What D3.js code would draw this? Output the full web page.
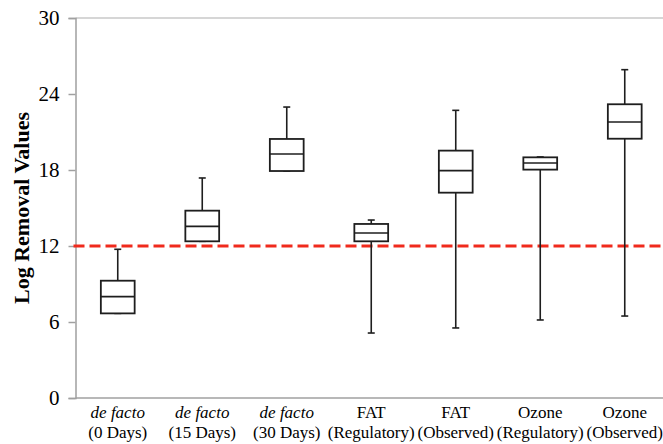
<!DOCTYPE html>
<html>
<head>
<meta charset="utf-8">
<script src="https://cdn.jsdelivr.net/npm/d3@7"></script>
<style>
  body { margin: 0; background: #fff; }
  svg { display: block; }
  text { font-family: "Liberation Serif", "Times New Roman", serif; fill: #000; }
</style>
</head>
<body>
<div class="container"></div>
<script>
const categories = ["de facto|(0 Days)", "de facto|(15 Days)", "de facto|(30 Days)",
  "FAT|(Regulatory)", "FAT|(Observed)", "Ozone|(Regulatory)", "Ozone|(Observed)"];
const mins = [6.68, 12.37, 17.92, 5.13, 5.53, 6.16, 6.47];
const q1s = [6.68, 12.37, 17.92, 12.37, 16.21, 18.03, 20.47];
const medians = [8.0, 13.55, 19.26, 13.03, 17.95, 18.55, 21.79];
const q3s = [9.26, 14.79, 20.45, 13.74, 19.53, 19.0, 23.19];
const maxs = [11.74, 17.37, 22.97, 14.05, 22.71, 19.03, 25.92];
const yTicks = [0, 6, 12, 18, 24, 30];
const threshold = 12;

const width = 663;
const height = 444;
const plotLeft = 75.5;
const plotTop = 18;
const plotBottom = 398;
const step = 84.5;

const svg = d3.select(".container").append("svg")
  .attr("width", width)
  .attr("height", height);

const x = d3.scaleBand()
  .domain(categories)
  .range([plotLeft, plotLeft + step * categories.length])
  .paddingInner(0.6)
  .paddingOuter(0.3);

const y = d3.scaleLinear().domain([0, 30]).range([plotBottom, plotTop]);

// frame lines
const axisColor = "#a0a0a0";
svg.append("line")
  .attr("x1", plotLeft).attr("x2", width)
  .attr("y1", y(30)).attr("y2", y(30))
  .attr("stroke", "#c8c8c8").attr("stroke-width", 1.5);
svg.append("line")
  .attr("x1", plotLeft).attr("x2", width)
  .attr("y1", y(0)).attr("y2", y(0))
  .attr("stroke", axisColor).attr("stroke-width", 1.5);

const yAxis = svg.append("g")
  .attr("transform", `translate(${plotLeft},0)`)
  .call(d3.axisLeft(y).tickValues(yTicks).tickSize(7).tickPadding(9));
yAxis.select(".domain").attr("stroke", axisColor).attr("stroke-width", 1.5);
yAxis.selectAll(".tick line").attr("stroke", axisColor).attr("stroke-width", 1.5);
yAxis.selectAll(".tick text")
  .style("font-family", "'Liberation Serif', 'Times New Roman', serif")
  .style("font-size", "21px")
  .attr("fill", "#000");

svg.append("text")
  .attr("transform", `translate(29,${(plotTop + plotBottom) / 2}) rotate(-90)`)
  .attr("text-anchor", "middle")
  .style("font-size", "22px")
  .style("font-weight", "bold")
  .text("Log Removal Values");

// threshold line
svg.append("line")
  .attr("x1", plotLeft - 2).attr("x2", width)
  .attr("y1", y(threshold)).attr("y2", y(threshold))
  .attr("stroke", "#f02a1c")
  .attr("stroke-width", 3)
  .attr("stroke-dasharray", "11,5");

// boxes
const boxColor = "#1e1e1e";
const capHalf = 3.5;
categories.forEach((c, i) => {
  const cx = x(c) + x.bandwidth() / 2;
  const g = svg.append("g");

  g.append("line")
    .attr("x1", cx).attr("x2", cx)
    .attr("y1", y(maxs[i])).attr("y2", y(q3s[i]))
    .attr("stroke", boxColor).attr("stroke-width", 1.6);
  g.append("line")
    .attr("x1", cx).attr("x2", cx)
    .attr("y1", y(q1s[i])).attr("y2", y(mins[i]))
    .attr("stroke", boxColor).attr("stroke-width", 1.6);

  [maxs[i], mins[i]].forEach((v) => {
    g.append("line")
      .attr("x1", cx - capHalf).attr("x2", cx + capHalf)
      .attr("y1", y(v)).attr("y2", y(v))
      .attr("stroke", boxColor).attr("stroke-width", 1.6);
  });

  g.append("rect")
    .attr("x", x(c))
    .attr("y", y(q3s[i]))
    .attr("width", x.bandwidth())
    .attr("height", y(q1s[i]) - y(q3s[i]))
    .attr("fill", "#fff")
    .attr("stroke", boxColor)
    .attr("stroke-width", 1.8);

  g.append("line")
    .attr("x1", x(c)).attr("x2", x(c) + x.bandwidth())
    .attr("y1", y(medians[i])).attr("y2", y(medians[i]))
    .attr("stroke", boxColor).attr("stroke-width", 1.6);

  const [line1, line2] = c.split("|");
  const label = svg.append("text")
    .attr("text-anchor", "middle")
    .style("font-size", "17px");
  label.append("tspan")
    .attr("x", cx).attr("y", 418)
    .style("font-style", line1 === "de facto" ? "italic" : "normal")
    .text(line1);
  label.append("tspan")
    .attr("x", cx).attr("y", 438)
    .text(line2);
});
</script>
</body>
</html>
